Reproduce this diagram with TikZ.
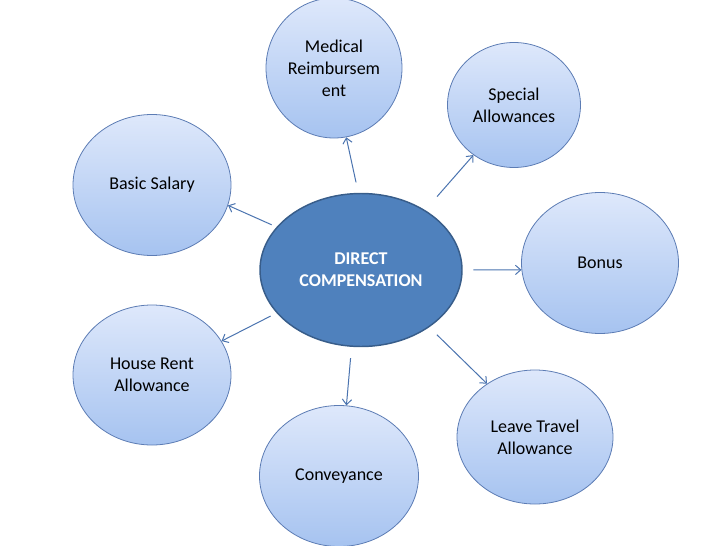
\documentclass[tikz,border=0pt]{standalone}
\usepackage{fontspec}
\setmainfont{Carlito}
\usetikzlibrary{shapes.geometric,arrows.meta}
\definecolor{hubfill}{RGB}{79,129,189}
\definecolor{hubline}{RGB}{56,93,138}
\definecolor{leaftop}{RGB}{222,232,251}
\definecolor{leafbot}{RGB}{166,195,240}
\definecolor{leafline}{RGB}{92,124,180}
\definecolor{connline}{RGB}{74,115,175}
\begin{document}
\begin{tikzpicture}
[x=0.75pt,y=-0.75pt,font=\fontsize{13.5}{16.5}\selectfont,
hub/.style = {draw=hubline, line width=1.1pt, fill=hubfill, ellipse, inner sep=0pt, text=white, font=\fontsize{13.5}{16.5}\selectfont\bfseries, align=center},
leaf/.style = {draw=leafline, line width=0.6pt, ellipse, top color=leaftop, bottom color=leafbot, inner sep=0pt, align=center},
conn/.style = {draw=connline, line width=0.75pt, -{Straight Barb[length=4pt,width=7pt]}},]
\useasboundingbox (0,0) rectangle (728,546);
\node (c) at (361,270)[hub, minimum width=151.5pt, minimum height=114.75pt] {DIRECT\\COMPENSATION};
\node (med) at (334,68)[leaf, minimum width=102pt, minimum height=105pt] {Medical\\Reimbursem\\ent};
\node (spec) at (514,105)[leaf, minimum width=99.75pt, minimum height=93.75pt] {Special\\Allowances};
\node (basic) at (152,185)[leaf, minimum width=118.5pt, minimum height=105.75pt] {Basic Salary};
\node (bonus) at (600,263)[leaf, minimum width=117.75pt, minimum height=105.75pt] {Bonus};
\node (house) at (152,375)[leaf, minimum width=118.5pt, minimum height=105pt] {House Rent\\Allowance};
\node (conv) at (339,476)[leaf, minimum width=119.25pt, minimum height=105.75pt] {Conveyance};
\node (leave) at (535,437)[leaf, minimum width=117pt, minimum height=100.5pt] {Leave Travel\\Allowance};
% arrows out of the hub
\foreach \from/\to/\gap in {92/med.-80/8pt, 43/spec.231/13.5pt, 153/basic.-15/4pt, 0/bonus.185/8pt, 207/house.26/5pt, -97/conv.84/8.5pt, -40/leave.132/8pt}
\draw[conn, shorten <=\gap] (c.\from) -- (\to);
\end{tikzpicture}
\end{document}
